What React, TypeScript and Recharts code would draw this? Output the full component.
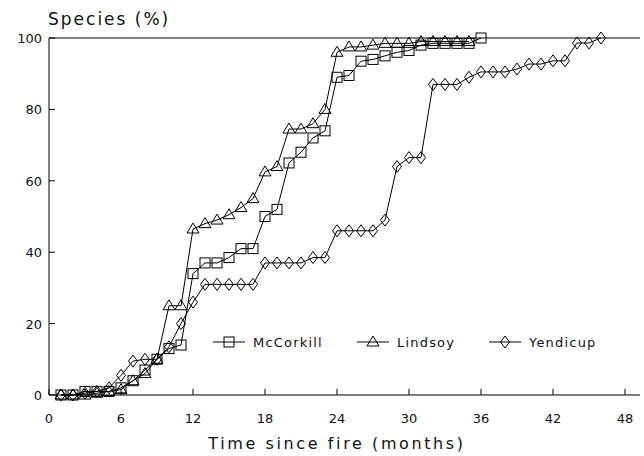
import React from "react";
import { LineChart, Line, XAxis, YAxis, ReferenceLine } from "recharts";

const months: number[] = Array.from({ length: 46 }, (_, i) => i + 1);

const mcCorkill: number[] = [
  0, 0, 1, 1, 1, 2, 4, 7, 10, 13, 14, 34, 37, 37, 38.5, 41, 41, 50, 52, 65,
  68, 72, 74, 89, 89.5, 93.5, 94, 95, 96, 96.5, 98, 98.5, 98.5, 98.5, 98.5, 100,
];

const lindsoy: number[] = [
  0, 0, 0, 0.5, 1, 1.5, 4, 6, 10, 25, 25, 46.5, 48, 49, 50.5, 52.5, 55, 62.5, 64, 74.5,
  74.5, 76, 80, 96, 97.5, 97.5, 98, 98.5, 98.5, 98.5, 99, 99, 99, 99, 99,
];

const yendicup: number[] = [
  0, 0, 0.5, 1, 2, 5.5, 9.5, 10, 10, 13.5, 20, 26, 31, 31, 31, 31, 31, 37, 37, 37,
  37, 38.5, 38.5, 46, 46, 46, 46, 49, 64, 66.5, 66.5, 87, 87, 87, 89, 90.5, 90.5, 90.5, 91.3, 92.7,
  92.7, 93.6, 93.6, 98.6, 98.6, 100,
];

const xTicks: number[] = [0, 6, 12, 18, 24, 30, 36, 42, 48];
const yTicks: number[] = [0, 20, 40, 60, 80, 100];

const seriesNames = ["McCorkill", "Lindsoy", "Yendicup"];

const data = months.map((m, i) => ({
  month: m,
  McCorkill: mcCorkill[i],
  Lindsoy: lindsoy[i],
  Yendicup: yendicup[i],
}));

const FONT = "'DejaVu Sans', sans-serif";
const TXT = "#111";

const Square = (cx: number, cy: number, k?: string) => (
  <rect key={k} x={cx - 5} y={cy - 5} width={10} height={10} fill="none" stroke="#000" strokeWidth={1} />
);
const Triangle = (cx: number, cy: number, k?: string) => (
  <polygon
    key={k}
    points={`${cx},${cy - 6} ${cx + 6},${cy + 4} ${cx - 6},${cy + 4}`}
    fill="none"
    stroke="#000"
    strokeWidth={1}
  />
);
const Diamond = (cx: number, cy: number, k?: string) => (
  <polygon
    key={k}
    points={`${cx},${cy - 6} ${cx + 4.5},${cy} ${cx},${cy + 6} ${cx - 4.5},${cy}`}
    fill="none"
    stroke="#000"
    strokeWidth={1}
  />
);

const mkDot = (fn: (cx: number, cy: number, k?: string) => React.ReactElement) => (props: any) => {
  const { cx, cy, index } = props;
  if (cx == null || cy == null || isNaN(cx) || isNaN(cy)) return <g key={`e${index}`} />;
  return fn(cx, cy, `d${index}`);
};

const XTick = (props: any) => {
  const { x, y, payload } = props;
  return (
    <g>
      <line x1={x} x2={x} y1={y} y2={y - 6} stroke="#000" strokeWidth={1} />
      <text x={x} y={y + 28} textAnchor="middle" fontFamily={FONT} fontSize={13} fill={TXT}>
        {payload.value}
      </text>
    </g>
  );
};

const YTick = (props: any) => {
  const { x, y, payload } = props;
  return (
    <g>
      <line x1={x} x2={x + 6} y1={y} y2={y} stroke="#000" strokeWidth={1} />
      <text x={x - 7} y={y + 5} textAnchor="end" fontFamily={FONT} fontSize={13} fill={TXT}>
        {payload.value}
      </text>
    </g>
  );
};

const legendItems = [
  { name: seriesNames[0], lx: 213, fn: Square },
  { name: seriesNames[1], lx: 357, fn: Triangle },
  { name: seriesNames[2], lx: 489, fn: Diamond },
];

export default function App() {
  return (
    <div style={{ position: "absolute", left: 0, top: 0, width: 644, height: 456, background: "#fff" }}>
      <LineChart width={644} height={456} data={data} margin={{ top: 38, right: 4, left: 0, bottom: 0 }}>
        <XAxis
          dataKey="month"
          type="number"
          domain={[0, 49.25]}
          ticks={xTicks}
          tickSize={0}
          tickMargin={0}
          tickLine={false}
          tick={<XTick />}
          height={61}
          axisLine={{ stroke: "#000", strokeWidth: 1 }}
          allowDataOverflow
        />
        <YAxis
          type="number"
          domain={[0, 100]}
          ticks={yTicks}
          tickSize={0}
          tickMargin={0}
          tickLine={false}
          tick={<YTick />}
          width={49}
          axisLine={{ stroke: "#000", strokeWidth: 1 }}
        />
        <ReferenceLine y={100} stroke="#000" strokeWidth={1} />
        <Line
          dataKey="McCorkill"
          stroke="#000"
          strokeWidth={1}
          dot={mkDot(Square)}
          activeDot={false}
          isAnimationActive={false}
          connectNulls={false}
        />
        <Line
          dataKey="Lindsoy"
          stroke="#000"
          strokeWidth={1}
          dot={mkDot(Triangle)}
          activeDot={false}
          isAnimationActive={false}
          connectNulls={false}
        />
        <Line
          dataKey="Yendicup"
          stroke="#000"
          strokeWidth={1}
          dot={mkDot(Diamond)}
          activeDot={false}
          isAnimationActive={false}
          connectNulls={false}
        />
      </LineChart>
      <svg
        width={644}
        height={456}
        style={{ position: "absolute", left: 0, top: 0, pointerEvents: "none" }}
      >
        <text x={48} y={25} fontFamily={FONT} fontSize={17} letterSpacing={2} fill={TXT}>
          Species (%)
        </text>
        <text x={337} y={449} textAnchor="middle" fontFamily={FONT} fontSize={16} letterSpacing={2.6} fill={TXT}>
          Time since fire (months)
        </text>
        {legendItems.map((it) => (
          <g key={it.name}>
            <line x1={it.lx} x2={it.lx + 32} y1={342} y2={342} stroke="#000" strokeWidth={1} />
            {it.fn(it.lx + 16, 342)}
            <text x={it.lx + 40} y={347} fontFamily={FONT} fontSize={13} letterSpacing={1.2} fill={TXT}>
              {it.name}
            </text>
          </g>
        ))}
      </svg>
    </div>
  );
}
